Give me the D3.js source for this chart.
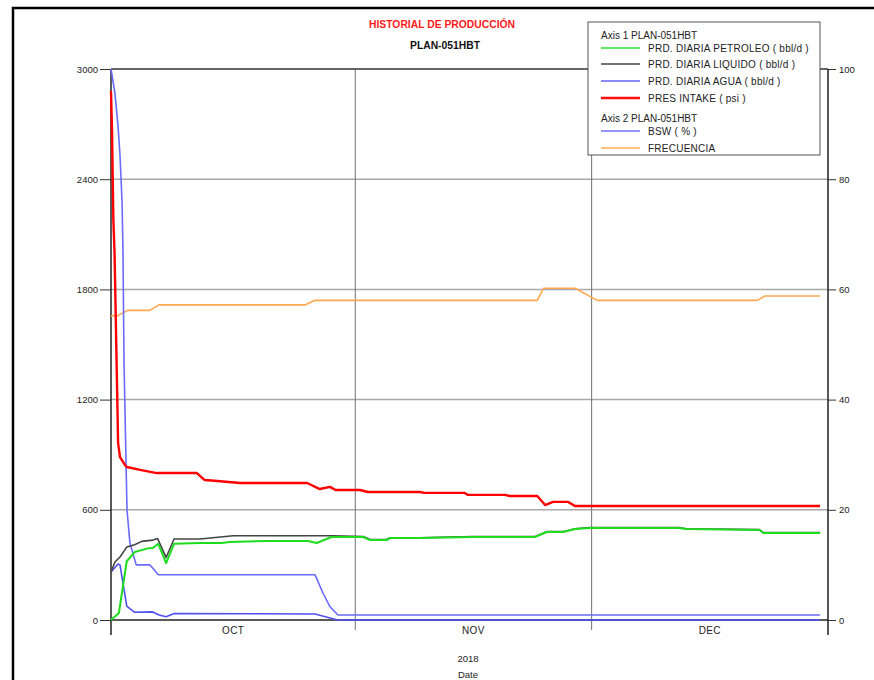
<!DOCTYPE html>
<html>
<head>
<meta charset="utf-8">
<script src="https://cdn.jsdelivr.net/npm/d3@7"></script>
<style>
  body { margin: 0; background: #fff; }
  text { font-family: "Liberation Sans", Arial, sans-serif; }
</style>
</head>
<body>
<div id="chart"></div>
<script>
// Series: [days since 2018-10-01, value]
const presIntake = [
    [0, 2880], [0.13, 2660], [0.3, 2180], [0.45, 2000], [0.76, 1290], [0.9, 964],
    [1.14, 887], [1.78, 844], [2.0, 833], [3.7, 817], [5.8, 800], [10.9, 800],
    [11.9, 762], [13.5, 757], [16.4, 746], [24.9, 746], [26.5, 713], [27.8, 725],
    [28.5, 708], [31.6, 708], [32.6, 697], [39.2, 697], [39.8, 692], [44.9, 692],
    [45.3, 681], [50, 681], [50.6, 675], [54.1, 675], [55.1, 626], [56.1, 643],
    [58, 643], [58.9, 621], [90, 621],
];
const oilRate = [
    [0, 0], [1.0, 38], [2.0, 320], [3.0, 370], [4.7, 390], [5.3, 392], [6.0, 415],
    [7.0, 310], [8.0, 415], [11.3, 419], [14, 419], [15.1, 425], [20, 430], [25, 430],
    [26.1, 419], [28, 452], [32, 452], [32.9, 435], [35, 435], [35.4, 446], [39.2, 446],
    [45.9, 452], [53.8, 452], [55.3, 479], [57.4, 479], [58.9, 495], [60.8, 501],
    [72, 501], [73, 495], [82.3, 490], [82.8, 474], [90, 474],
];
const liquidRate = [
    [0, 261], [0.5, 316], [1.14, 343], [2.0, 397], [3.0, 410], [3.9, 428], [5.3, 435],
    [5.9, 444], [7.0, 340], [8.0, 441], [11.3, 441], [15.5, 459], [28, 459], [32, 455],
    [32.9, 438], [35, 438], [35.4, 448], [39.2, 448], [45.9, 454], [53.8, 454],
    [55.3, 481], [57.4, 481], [58.9, 497], [60.8, 503], [72, 503], [73, 497],
    [82.3, 492], [82.8, 476], [90, 476],
];
const waterRate = [
    [0, 261], [0.9, 305], [1.14, 300], [2.0, 75], [3.0, 42], [5.3, 44], [6.1, 27],
    [7.0, 18], [8.0, 35], [25.9, 33], [27.8, 11], [28.8, 0], [90, 0],
];
const bsw = [
    [0, 100], [0.06, 99.5], [0.5, 95.6], [0.9, 89.5], [1.14, 84.4], [1.4, 76],
    [1.52, 67], [1.65, 47], [2.03, 20], [2.4, 14], [3.2, 10], [4.95, 10], [6, 8.2],
    [25.9, 8.2], [26.9, 4.9], [27.8, 2.4], [28.8, 0.9], [90, 0.9],
];
const frecuencia = [
    [0, 55.2], [0.8, 55.2], [2.1, 56.2], [4.9, 56.2], [6.1, 57.2], [24.7, 57.2],
    [25.8, 58], [54.1, 58], [54.9, 60.2], [58.9, 60.2], [61.7, 58], [82, 58],
    [83, 58.8], [90, 58.8],
];

const leftTicks = [0, 600, 1200, 1800, 2400, 3000];
const rightTicks = [0, 20, 40, 60, 80, 100];
const monthLabels = ["OCT", "NOV", "DEC"];
const legendItems = [
    { group: "Axis 1  PLAN-051HBT" },
    { label: "PRD. DIARIA PETROLEO ( bbl/d )", color: "#2ee02e" },
    { label: "PRD. DIARIA LIQUIDO ( bbl/d )", color: "#444" },
    { label: "PRD. DIARIA AGUA ( bbl/d )", color: "#6464ff" },
    { label: "PRES INTAKE ( psi )", color: "#ff1010" },
    { group: "Axis 2  PLAN-051HBT" },
    { label: "BSW ( % )", color: "#7070ff" },
    { label: "FRECUENCIA", color: "#ffa852" },
];

// Set dimensions
const width = 874,
    height = 680;
const plot = { left: 111, right: 828, top: 69, bottom: 620 };

const svg = d3
    .select("#chart")
    .append("svg")
    .attr("width", width)
    .attr("height", height);

const base = Date.UTC(2018, 9, 1);
const toDate = (d) => new Date(base + d * 864e5);

const x = d3
    .scaleUtc()
    .domain([new Date(base), new Date(Date.UTC(2018, 11, 31))])
    .range([plot.left, plot.right]);
const y1 = d3.scaleLinear().domain([0, 3000]).range([plot.bottom, plot.top]);
const y2 = d3.scaleLinear().domain([0, 100]).range([plot.bottom, plot.top]);

// Outer frame
svg.append("rect")
    .attr("x", 13)
    .attr("y", 8)
    .attr("width", 900)
    .attr("height", 720)
    .attr("fill", "none")
    .attr("stroke", "#000")
    .attr("stroke-width", 2.5);

// Titles
svg.append("text")
    .attr("x", 442)
    .attr("y", 28)
    .attr("text-anchor", "middle")
    .attr("font-size", 10.5)
    .attr("font-weight", "bold")
    .attr("fill", "#ff1a1a")
    .attr("textLength", 146)
    .attr("lengthAdjust", "spacingAndGlyphs")
    .text("HISTORIAL DE PRODUCCIÓN");
svg.append("text")
    .attr("x", 445)
    .attr("y", 49)
    .attr("text-anchor", "middle")
    .attr("font-size", 10.5)
    .attr("font-weight", "bold")
    .attr("fill", "#111")
    .attr("textLength", 70)
    .attr("lengthAdjust", "spacingAndGlyphs")
    .text("PLAN-051HBT");

// Horizontal gridlines
svg.append("g")
    .selectAll("line")
    .data(leftTicks.filter((t) => t > 0 && t < 3000))
    .enter()
    .append("line")
    .attr("x1", plot.left)
    .attr("x2", plot.right)
    .attr("y1", (d) => y1(d))
    .attr("y2", (d) => y1(d))
    .attr("stroke", "#a8a8a8")
    .attr("stroke-width", 1.5);

// Month boundaries
const monthStarts = [new Date(Date.UTC(2018, 10, 1)), new Date(Date.UTC(2018, 11, 1))];
svg.append("g")
    .selectAll("line")
    .data(monthStarts)
    .enter()
    .append("line")
    .attr("x1", (d) => x(d))
    .attr("x2", (d) => x(d))
    .attr("y1", plot.top)
    .attr("y2", plot.bottom + 10)
    .attr("stroke", "#707070")
    .attr("stroke-width", 1);

// Top border
svg.append("line")
    .attr("x1", plot.left)
    .attr("x2", plot.right)
    .attr("y1", plot.top)
    .attr("y2", plot.top)
    .attr("stroke", "#333")
    .attr("stroke-width", 1.5);

// Left axis
const gLeft = svg.append("g").attr("transform", `translate(${plot.left},0)`);
gLeft.call(d3.axisLeft(y1).tickValues(d3.range(0, 3001, 150)).tickSize(6).tickFormat(""));
gLeft.call(d3.axisLeft(y1).tickValues(leftTicks).tickSize(11).tickPadding(2).tickFormat(d3.format("d")));
gLeft.selectAll(".domain").remove();
gLeft.selectAll("line").attr("stroke", "#333");
gLeft.selectAll("text").attr("font-size", 9.5).attr("fill", "#222")
    .style("font-family", "'Liberation Sans', Arial, sans-serif");

// Right axis
const gRight = svg.append("g").attr("transform", `translate(${plot.right},0)`);
gRight.call(d3.axisRight(y2).tickValues(d3.range(0, 101, 5)).tickSize(5).tickFormat(""));
gRight.call(d3.axisRight(y2).tickValues(rightTicks).tickSize(8).tickPadding(3).tickFormat(d3.format("d")));
gRight.selectAll(".domain").remove();
gRight.selectAll("line").attr("stroke", "#333");
gRight.selectAll("text").attr("font-size", 9.5).attr("fill", "#222")
    .style("font-family", "'Liberation Sans', Arial, sans-serif");

// Axis lines
svg.append("line")
    .attr("x1", plot.left).attr("x2", plot.left)
    .attr("y1", plot.top).attr("y2", plot.bottom + 15)
    .attr("stroke", "#222").attr("stroke-width", 1.5);
svg.append("line")
    .attr("x1", plot.right).attr("x2", plot.right)
    .attr("y1", plot.top).attr("y2", plot.bottom + 15)
    .attr("stroke", "#222").attr("stroke-width", 1.5);
svg.append("line")
    .attr("x1", plot.left).attr("x2", plot.right)
    .attr("y1", plot.bottom).attr("y2", plot.bottom)
    .attr("stroke", "#222").attr("stroke-width", 1.5);

// Month labels
const monthMid = (i) =>
    new Date((Date.UTC(2018, 9 + i, 1) + Math.min(Date.UTC(2018, 10 + i, 1), +x.domain()[1])) / 2);
svg.append("g")
    .selectAll("text")
    .data(monthLabels)
    .enter()
    .append("text")
    .attr("x", (d, i) => x(monthMid(i)))
    .attr("y", 634)
    .attr("text-anchor", "middle")
    .attr("font-size", 10)
    .attr("letter-spacing", 0.4)
    .attr("fill", "#222")
    .text((d) => d);

svg.append("text")
    .attr("x", 468)
    .attr("y", 662)
    .attr("text-anchor", "middle")
    .attr("font-size", 9.5)
    .attr("fill", "#222")
    .text("2018");
svg.append("text")
    .attr("x", 468)
    .attr("y", 678)
    .attr("text-anchor", "middle")
    .attr("font-size", 9.5)
    .attr("fill", "#222")
    .text("Date");

// Lines
const line1 = d3.line().x((d) => x(toDate(d[0]))).y((d) => y1(d[1]));
const line2 = d3.line().x((d) => x(toDate(d[0]))).y((d) => y2(d[1]));

const series = [
    { data: frecuencia, gen: line2, color: "#ffa852", w: 1.6 },
    { data: bsw, gen: line2, color: "#6a6aff", w: 1.6 },
    { data: waterRate, gen: line1, color: "#5050f0", w: 1.6 },
    { data: liquidRate, gen: line1, color: "#444", w: 1.6 },
    { data: oilRate, gen: line1, color: "#1edc1e", w: 2 },
    { data: presIntake, gen: line1, color: "#ff0000", w: 2.4 },
];

svg.append("g")
    .selectAll("path")
    .data(series)
    .enter()
    .append("path")
    .attr("d", (s) => s.gen(s.data))
    .attr("fill", "none")
    .attr("stroke", (s) => s.color)
    .attr("stroke-width", (s) => s.w)
    .attr("stroke-linejoin", "round");

// Legend
const legend = svg.append("g").attr("transform", "translate(588,22)");
legend.append("rect")
    .attr("width", 232)
    .attr("height", 133)
    .attr("fill", "#fff")
    .attr("stroke", "#555")
    .attr("stroke-width", 1);

const rowY = [13, 26, 42, 59, 76, 96, 109, 126];
legendItems.forEach((item, i) => {
    const yy = rowY[i];
    if (item.group) {
        legend.append("text")
            .attr("x", 13)
            .attr("y", yy + 3.5)
            .attr("font-size", 10)
            .attr("fill", "#222")
            .text(item.group);
    } else {
        legend.append("line")
            .attr("x1", 13).attr("x2", 52)
            .attr("y1", yy).attr("y2", yy)
            .attr("stroke", item.color)
            .attr("stroke-width", item.color === "#ff1010" ? 2.4 : 1.6);
        legend.append("text")
            .attr("x", 60)
            .attr("y", yy + 3.5)
            .attr("font-size", 10)
            .attr("letter-spacing", 0.25)
            .attr("fill", "#222")
            .text(item.label);
    }
});
</script>
</body>
</html>
